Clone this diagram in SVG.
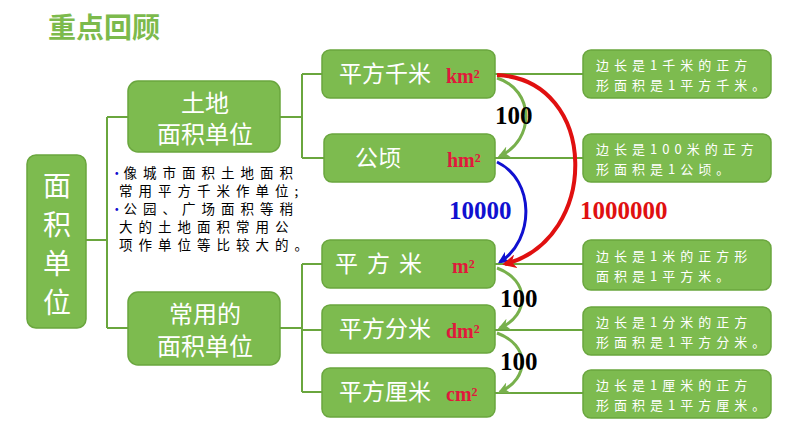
<svg xmlns="http://www.w3.org/2000/svg" width="794" height="447" viewBox="0 0 794 447">
<style>
.b{fill:#7dbb4f;stroke:#6aa63e;stroke-width:1.5}
.w{fill:#fff;font-family:"Noto Sans CJK SC",sans-serif;text-anchor:middle}
.u{fill:#e0183c;font-family:"Liberation Serif",serif;font-weight:bold;font-size:20px}
.d{fill:#fff;font-family:"Noto Sans CJK SC",serif;font-size:13px;letter-spacing:5px}
.ln{fill:none;stroke:#6aa63e;stroke-width:2}
.n{font-family:"Liberation Serif",serif;font-weight:bold;font-size:25px}
.t{font-family:"Noto Sans CJK SC",serif;font-size:13.5px;fill:#000;letter-spacing:6px}
</style>
<defs>
<marker id="ag" viewBox="0 0 10 10" refX="8" refY="5" markerWidth="4" markerHeight="4" orient="auto"><path d="M0,0 L10,5 L0,10 L3,5z" fill="#78b04c"/></marker>
<marker id="ab" viewBox="0 0 10 10" refX="8" refY="5" markerWidth="4" markerHeight="4" orient="auto"><path d="M0,0 L10,5 L0,10 L3,5z" fill="#1010d0"/></marker>
<marker id="ar" viewBox="0 0 10 10" refX="8" refY="5" markerWidth="3.5" markerHeight="3.5" orient="auto"><path d="M0,0 L10,5 L0,10 L3,5z" fill="#e01010"/></marker>
</defs>
<rect width="794" height="447" fill="#fff"/>
<text x="48" y="38" font-family="Noto Sans CJK SC,sans-serif" font-weight="bold" font-size="28" fill="#7cba4c">重点回顾</text>
<g id="connectors">
<path class="ln" d="M86,240H107M107,117V328M107,117H128M107,328H128"/>
<path class="ln" d="M280,117H302M302,74V158M302,74H322M302,158H324"/>
<path class="ln" d="M280,328H302M302,264V392M302,264H322M302,330H322M302,392H322"/>
<path class="ln" d="M495,74H583M495,158H583M495,264H583M495,330H583M495,393H583" stroke-width="1.5"/>
<path d="M497,78 C535,90 535,140 500,156" fill="none" stroke="#78b04c" stroke-width="3" marker-end="url(#ag)"/>
<path d="M497,162 C535,180 535,240 500,262" fill="none" stroke="#1010d0" stroke-width="3" marker-end="url(#ab)"/>
<path d="M497,75 C600,80 600,240 505,264" fill="none" stroke="#e01010" stroke-width="4" marker-end="url(#ar)"/>
<path d="M497,268 C530,280 530,315 500,328" fill="none" stroke="#78b04c" stroke-width="3" marker-end="url(#ag)"/>
<path d="M497,333 C530,345 530,378 500,392" fill="none" stroke="#78b04c" stroke-width="3" marker-end="url(#ag)"/>
</g>
<g id="n-root"><rect class="b" x="27" y="155" width="59" height="173" rx="9"/>
<text class="w" font-size="28" x="57" y="196">面</text><text class="w" font-size="28" x="57" y="235">积</text><text class="w" font-size="28" x="57" y="274">单</text><text class="w" font-size="28" x="57" y="313">位</text></g>
<g id="n-land"><rect class="b" x="128" y="81" width="152" height="71" rx="10"/>
<text class="w" font-size="24" x="205" y="112">土地</text><text class="w" font-size="24" x="205" y="143">面积单位</text></g>
<g id="n-common"><rect class="b" x="128" y="292" width="152" height="73" rx="10"/>
<text class="w" font-size="24" x="205" y="323">常用的</text><text class="w" font-size="24" x="205" y="355">面积单位</text></g>
<g id="note">
<text class="t" x="110" y="178"><tspan fill="#1010d0" letter-spacing="0">•</tspan>像城市面积土地面积</text>
<text class="t" x="119" y="196">常用平方千米作单位;</text>
<text class="t" x="110" y="214"><tspan fill="#1010d0" letter-spacing="0">•</tspan>公园、广场面积等稍</text>
<text class="t" x="119" y="232">大的土地面积常用公</text>
<text class="t" x="119" y="250">项作单位等比较大的。</text>
</g>
<g id="n-km"><rect class="b" x="322" y="50" width="173" height="48" rx="8"/><text class="w" font-size="23" x="385" y="82">平方千米</text><text class="u" x="446" y="83">km²</text></g>
<g id="n-hm"><rect class="b" x="324" y="134" width="171" height="48" rx="8"/><text class="w" font-size="23" x="378" y="166">公顷</text><text class="u" x="447" y="167">hm²</text></g>
<g id="n-m"><rect class="b" x="322" y="240" width="173" height="48" rx="8"/><text class="w" font-size="23" x="383" y="272" letter-spacing="9">平方米</text><text class="u" x="452" y="273">m²</text></g>
<g id="n-dm"><rect class="b" x="322" y="305" width="173" height="48" rx="8"/><text class="w" font-size="23" x="385" y="337">平方分米</text><text class="u" x="446" y="338">dm²</text></g>
<g id="n-cm"><rect class="b" x="322" y="368" width="173" height="49" rx="8"/><text class="w" font-size="23" x="385" y="400">平方厘米</text><text class="u" x="446" y="401">cm²</text></g>
<g id="d1"><rect class="b" x="583" y="50" width="188" height="48" rx="8"/><text class="d" x="596" y="70">边长是1千米的正方</text><text class="d" x="596" y="90">形面积是1平方千米。</text></g>
<g id="d2"><rect class="b" x="583" y="134" width="188" height="48" rx="8"/><text class="d" x="596" y="154">边长是100米的正方</text><text class="d" x="596" y="174">形面积是1公顷。</text></g>
<g id="d3"><rect class="b" x="583" y="240" width="188" height="50" rx="8"/><text class="d" x="596" y="261">边长是1米的正方形</text><text class="d" x="596" y="281">面积是1平方米。</text></g>
<g id="d4"><rect class="b" x="583" y="307" width="188" height="48" rx="8"/><text class="d" x="596" y="327">边长是1分米的正方</text><text class="d" x="596" y="347">形面积是1平方分米。</text></g>
<g id="d5"><rect class="b" x="583" y="370" width="188" height="48" rx="8"/><text class="d" x="596" y="390">边长是1厘米的正方</text><text class="d" x="596" y="410">形面积是1平方厘米。</text></g>
<g id="labels">
<text class="n" x="495" y="124" fill="#000">100</text>
<text class="n" x="449" y="219" fill="#1010d0">10000</text>
<text class="n" x="580" y="219" fill="#e01010">1000000</text>
<text class="n" x="500" y="307" fill="#000">100</text>
<text class="n" x="500" y="370" fill="#000">100</text>
</g>
</svg>
